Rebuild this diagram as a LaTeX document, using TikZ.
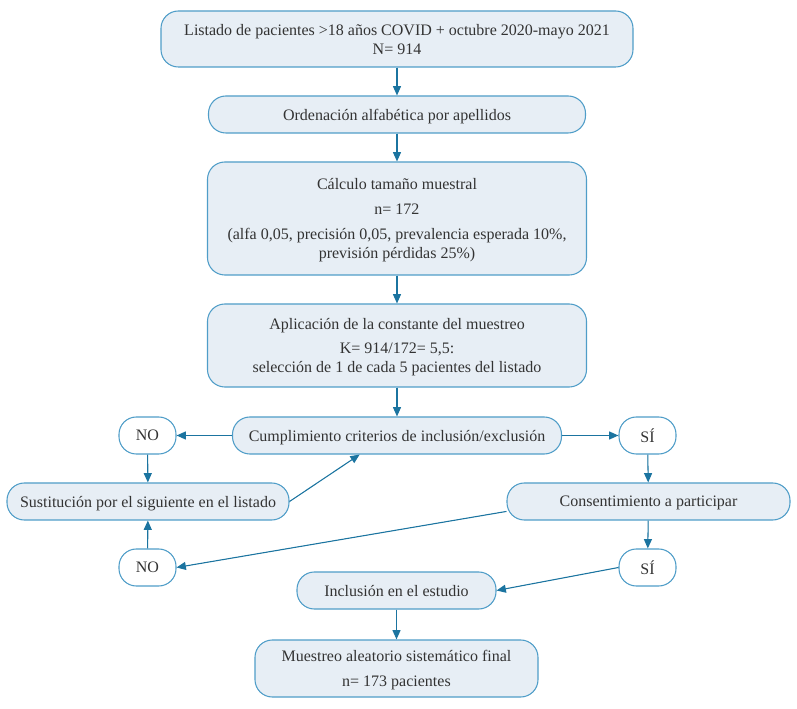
\documentclass[tikz,border=0pt]{standalone}
\usepackage{fontspec}
\setmainfont{Liberation Serif}
\usetikzlibrary{positioning}
\usetikzlibrary{arrows.meta}
\usetikzlibrary{calc}

\definecolor{boxfill}{HTML}{E7EEF5}
\definecolor{boxline}{HTML}{4F9DC8}
\definecolor{arrowcol}{HTML}{1B74A0}
\definecolor{textcol}{HTML}{333333}

\begin{document}
\begin{tikzpicture}[x=0.75pt, y=-0.75pt,
  stepbox/.style={draw=boxline, fill=boxfill, line width=0.8pt, rounded corners=13pt,
    align=center, inner sep=0pt, text depth=0pt, text=textcol, font=\fontsize{12}{14.25}\selectfont},
  answer/.style={stepbox, fill=white, minimum width=57*0.75pt, minimum height=37*0.75pt},
  flow/.style={-{Triangle[length=7pt, width=6pt]}, draw=arrowcol, fill=arrowcol, line width=0.8pt}]
  \useasboundingbox (0,0) rectangle (797,709);

  \node[stepbox, minimum width=472*0.75pt, minimum height=56*0.75pt] (listado) at (397,39)
    {Listado de pacientes >18 años COVID + octubre 2020-mayo 2021\\N= 914};
  \node[stepbox, minimum width=377*0.75pt, minimum height=37*0.75pt] (orden) at (397,114.5)
    {Ordenación alfabética por apellidos};
  \node[stepbox, minimum width=379*0.75pt, minimum height=113*0.75pt] (calculo) at (397,218.5)
    {Cálculo tamaño muestral\\[4.5pt] n= 172\\[4.5pt] (alfa 0,05, precisión 0,05, prevalencia esperada 10\%,\\ previsión pérdidas 25\%)};
  \node[stepbox, minimum width=379*0.75pt, minimum height=83*0.75pt] (constante) at (397,345.5)
    {Aplicación de la constante del muestreo\\[4pt] K= 914/172= 5,5:\\ selección de 1 de cada 5 pacientes del listado};
  \node[stepbox, minimum width=329*0.75pt, minimum height=37*0.75pt] (criterios) at (397,435.5)
    {Cumplimiento criterios de inclusión/exclusión};

  \node[answer] (no1) at (147.5,435.5) {NO};
  \node[answer] (si1) at (647.5,435.5) {SÍ};

  \node[stepbox, minimum width=282*0.75pt, minimum height=37*0.75pt] (sustitucion) at (148,501.5)
    {Sustitución por el siguiente en el listado};
  \node[stepbox, minimum width=283*0.75pt, minimum height=37*0.75pt] (consentimiento) at (648.5,501.5)
    {Consentimiento a participar};

  \node[answer] (no2) at (147.5,567.5) {NO};
  \node[answer] (si2) at (647.5,567.5) {SÍ};

  \node[stepbox, minimum width=199*0.75pt, minimum height=37*0.75pt] (inclusion) at (396.5,590.5)
    {Inclusión en el estudio};
  \node[stepbox, minimum width=283*0.75pt, minimum height=57*0.75pt] (final) at (396.5,668.5)
    {Muestreo aleatorio sistemático final\\[4.5pt] n= 173 pacientes};

  % main column
  \draw[flow] (listado) -- (orden);
  \draw[flow] (orden) -- (calculo);
  \draw[flow] (calculo) -- (constante);
  \draw[flow] (constante) -- (criterios);
  \draw[flow] (inclusion) -- (final);

  % criteria
  \draw[flow] (criterios) -- (no1);
  \draw[flow] (criterios) -- (si1);
  \draw[flow] (no1) -- (sustitucion);
  \draw[flow] (sustitucion.east) -- ([xshift=-28pt]criterios.south);

  % consent
  \draw[flow] (si1) -- (consentimiento);
  \draw[flow] (consentimiento) -- (si2);
  \draw[flow] (consentimiento.184) -- (no2.east);
  \draw[flow] (no2) -- (sustitucion);
  \draw[flow] (si2.west) -- (inclusion.east);
\end{tikzpicture}
\end{document}
